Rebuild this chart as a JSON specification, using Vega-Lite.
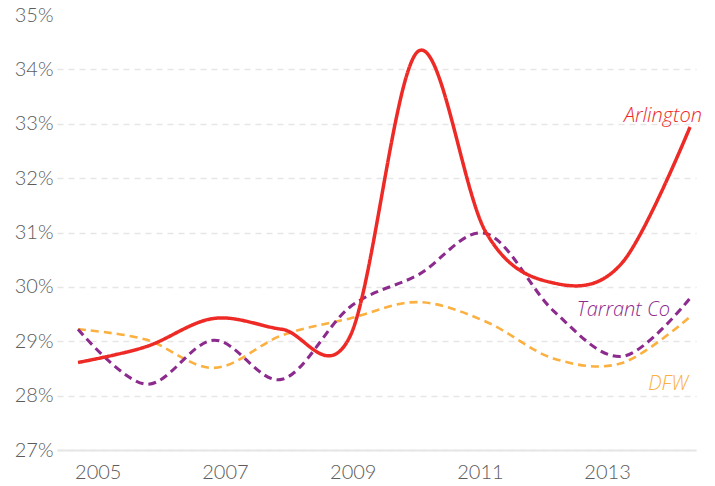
{
  "$schema": "https://vega.github.io/schema/vega-lite/v6.json",
  "width": 639,
  "height": 435,
  "autosize": {"type": "none"},
  "padding": {"left": 57, "top": 15, "right": 19, "bottom": 36},
  "background": "white",
  "config": {
    "view": {"stroke": null},
    "font": "Lato",
    "axis": {"labelFont": "Lato", "labelFontWeight": 300, "labelColor": "#5c5c5c", "labelFontSize": 20, "title": null}
  },
  "data": {
    "values": [
      {"series": "DFW", "year": 2005, "share": 0.2922},
      {"series": "DFW", "year": 2006, "share": 0.2903},
      {"series": "DFW", "year": 2007, "share": 0.2851},
      {"series": "DFW", "year": 2008, "share": 0.2911},
      {"series": "DFW", "year": 2009, "share": 0.2942},
      {"series": "DFW", "year": 2010, "share": 0.2972},
      {"series": "DFW", "year": 2011, "share": 0.2936},
      {"series": "DFW", "year": 2012, "share": 0.2868},
      {"series": "DFW", "year": 2013, "share": 0.2860},
      {"series": "DFW", "year": 2014, "share": 0.2945},
      {"series": "Tarrant Co", "year": 2005, "share": 0.2922},
      {"series": "Tarrant Co", "year": 2006, "share": 0.2821},
      {"series": "Tarrant Co", "year": 2007, "share": 0.2902},
      {"series": "Tarrant Co", "year": 2008, "share": 0.2830},
      {"series": "Tarrant Co", "year": 2009, "share": 0.2963},
      {"series": "Tarrant Co", "year": 2010, "share": 0.3022},
      {"series": "Tarrant Co", "year": 2011, "share": 0.3098},
      {"series": "Tarrant Co", "year": 2012, "share": 0.2955},
      {"series": "Tarrant Co", "year": 2013, "share": 0.2872},
      {"series": "Tarrant Co", "year": 2014, "share": 0.2979},
      {"series": "Arlington", "year": 2005, "share": 0.2861},
      {"series": "Arlington", "year": 2006, "share": 0.2890},
      {"series": "Arlington", "year": 2007, "share": 0.2942},
      {"series": "Arlington", "year": 2008, "share": 0.2922},
      {"series": "Arlington", "year": 2009, "share": 0.2909},
      {"series": "Arlington", "year": 2010, "share": 0.3433},
      {"series": "Arlington", "year": 2011, "share": 0.3100},
      {"series": "Arlington", "year": 2012, "share": 0.3007},
      {"series": "Arlington", "year": 2013, "share": 0.3044},
      {"series": "Arlington", "year": 2014, "share": 0.3294}
    ]
  },
  "encoding": {
    "x": {
      "field": "year",
      "type": "quantitative",
      "scale": {"domain": [2004.691, 2014.088], "nice": false, "zero": false},
      "axis": {
        "values": [2005.29, 2007.16, 2009.04, 2010.91, 2012.78],
        "labelExpr": "'' + round(datum.value)",
        "grid": false,
        "ticks": false,
        "domain": true,
        "domainColor": "#e6e6e6",
        "domainWidth": 2,
        "labelPadding": 12
      }
    },
    "y": {
      "field": "share",
      "type": "quantitative",
      "scale": {"domain": [0.27, 0.35], "nice": false, "zero": false},
      "axis": {
        "values": [0.27, 0.28, 0.29, 0.30, 0.31, 0.32, 0.33, 0.34, 0.35],
        "format": ".0%",
        "domain": false,
        "ticks": false,
        "labelPadding": 4,
        "grid": true,
        "gridColor": "#e6e6e6",
        "gridDash": [6, 5],
        "gridWidth": 1.5,
        "gridOpacity": {"condition": {"test": "datum.value >= 0.3499", "value": 0}, "value": 1}
      }
    }
  },
  "layer": [
    {
      "mark": {"type": "line", "interpolate": "cardinal", "tension": 0},
      "encoding": {
        "color": {
          "field": "series",
          "type": "nominal",
          "scale": {"domain": ["Arlington", "Tarrant Co", "DFW"], "range": ["#ee2a27", "#8c2a8e", "#fbb040"]},
          "legend": null
        },
        "strokeDash": {
          "field": "series",
          "type": "nominal",
          "scale": {"domain": ["Arlington", "Tarrant Co", "DFW"], "range": [[1, 0], [8, 5], [8, 5]]},
          "legend": null
        },
        "strokeWidth": {
          "field": "series",
          "type": "nominal",
          "scale": {"domain": ["Arlington", "Tarrant Co", "DFW"], "range": [3.5, 2.6, 2.6]},
          "legend": null
        },
        "order": {"field": "year"}
      }
    },
    {
      "transform": [{"filter": "datum.series == 'Arlington' && datum.year == 2014"}],
      "mark": {"type": "text", "align": "right", "baseline": "alphabetic", "dx": 12, "dy": -5, "fontSize": 20, "fontStyle": "italic", "fontWeight": 300, "font": "Open Sans", "color": "#ee2a27"},
      "encoding": {"text": {"field": "series"}}
    },
    {
      "transform": [{"filter": "datum.series == 'Tarrant Co' && datum.year == 2014"}],
      "mark": {"type": "text", "align": "right", "baseline": "alphabetic", "dx": -20, "dy": 18, "fontSize": 20, "fontStyle": "italic", "fontWeight": 300, "font": "Open Sans", "color": "#8c2a8e"},
      "encoding": {"text": {"field": "series"}}
    },
    {
      "transform": [{"filter": "datum.series == 'DFW' && datum.year == 2014"}],
      "mark": {"type": "text", "align": "right", "baseline": "alphabetic", "dx": -2, "dy": 73, "fontSize": 20, "fontStyle": "italic", "fontWeight": 300, "font": "Open Sans", "color": "#fbb040"},
      "encoding": {"text": {"field": "series"}}
    }
  ]
}
